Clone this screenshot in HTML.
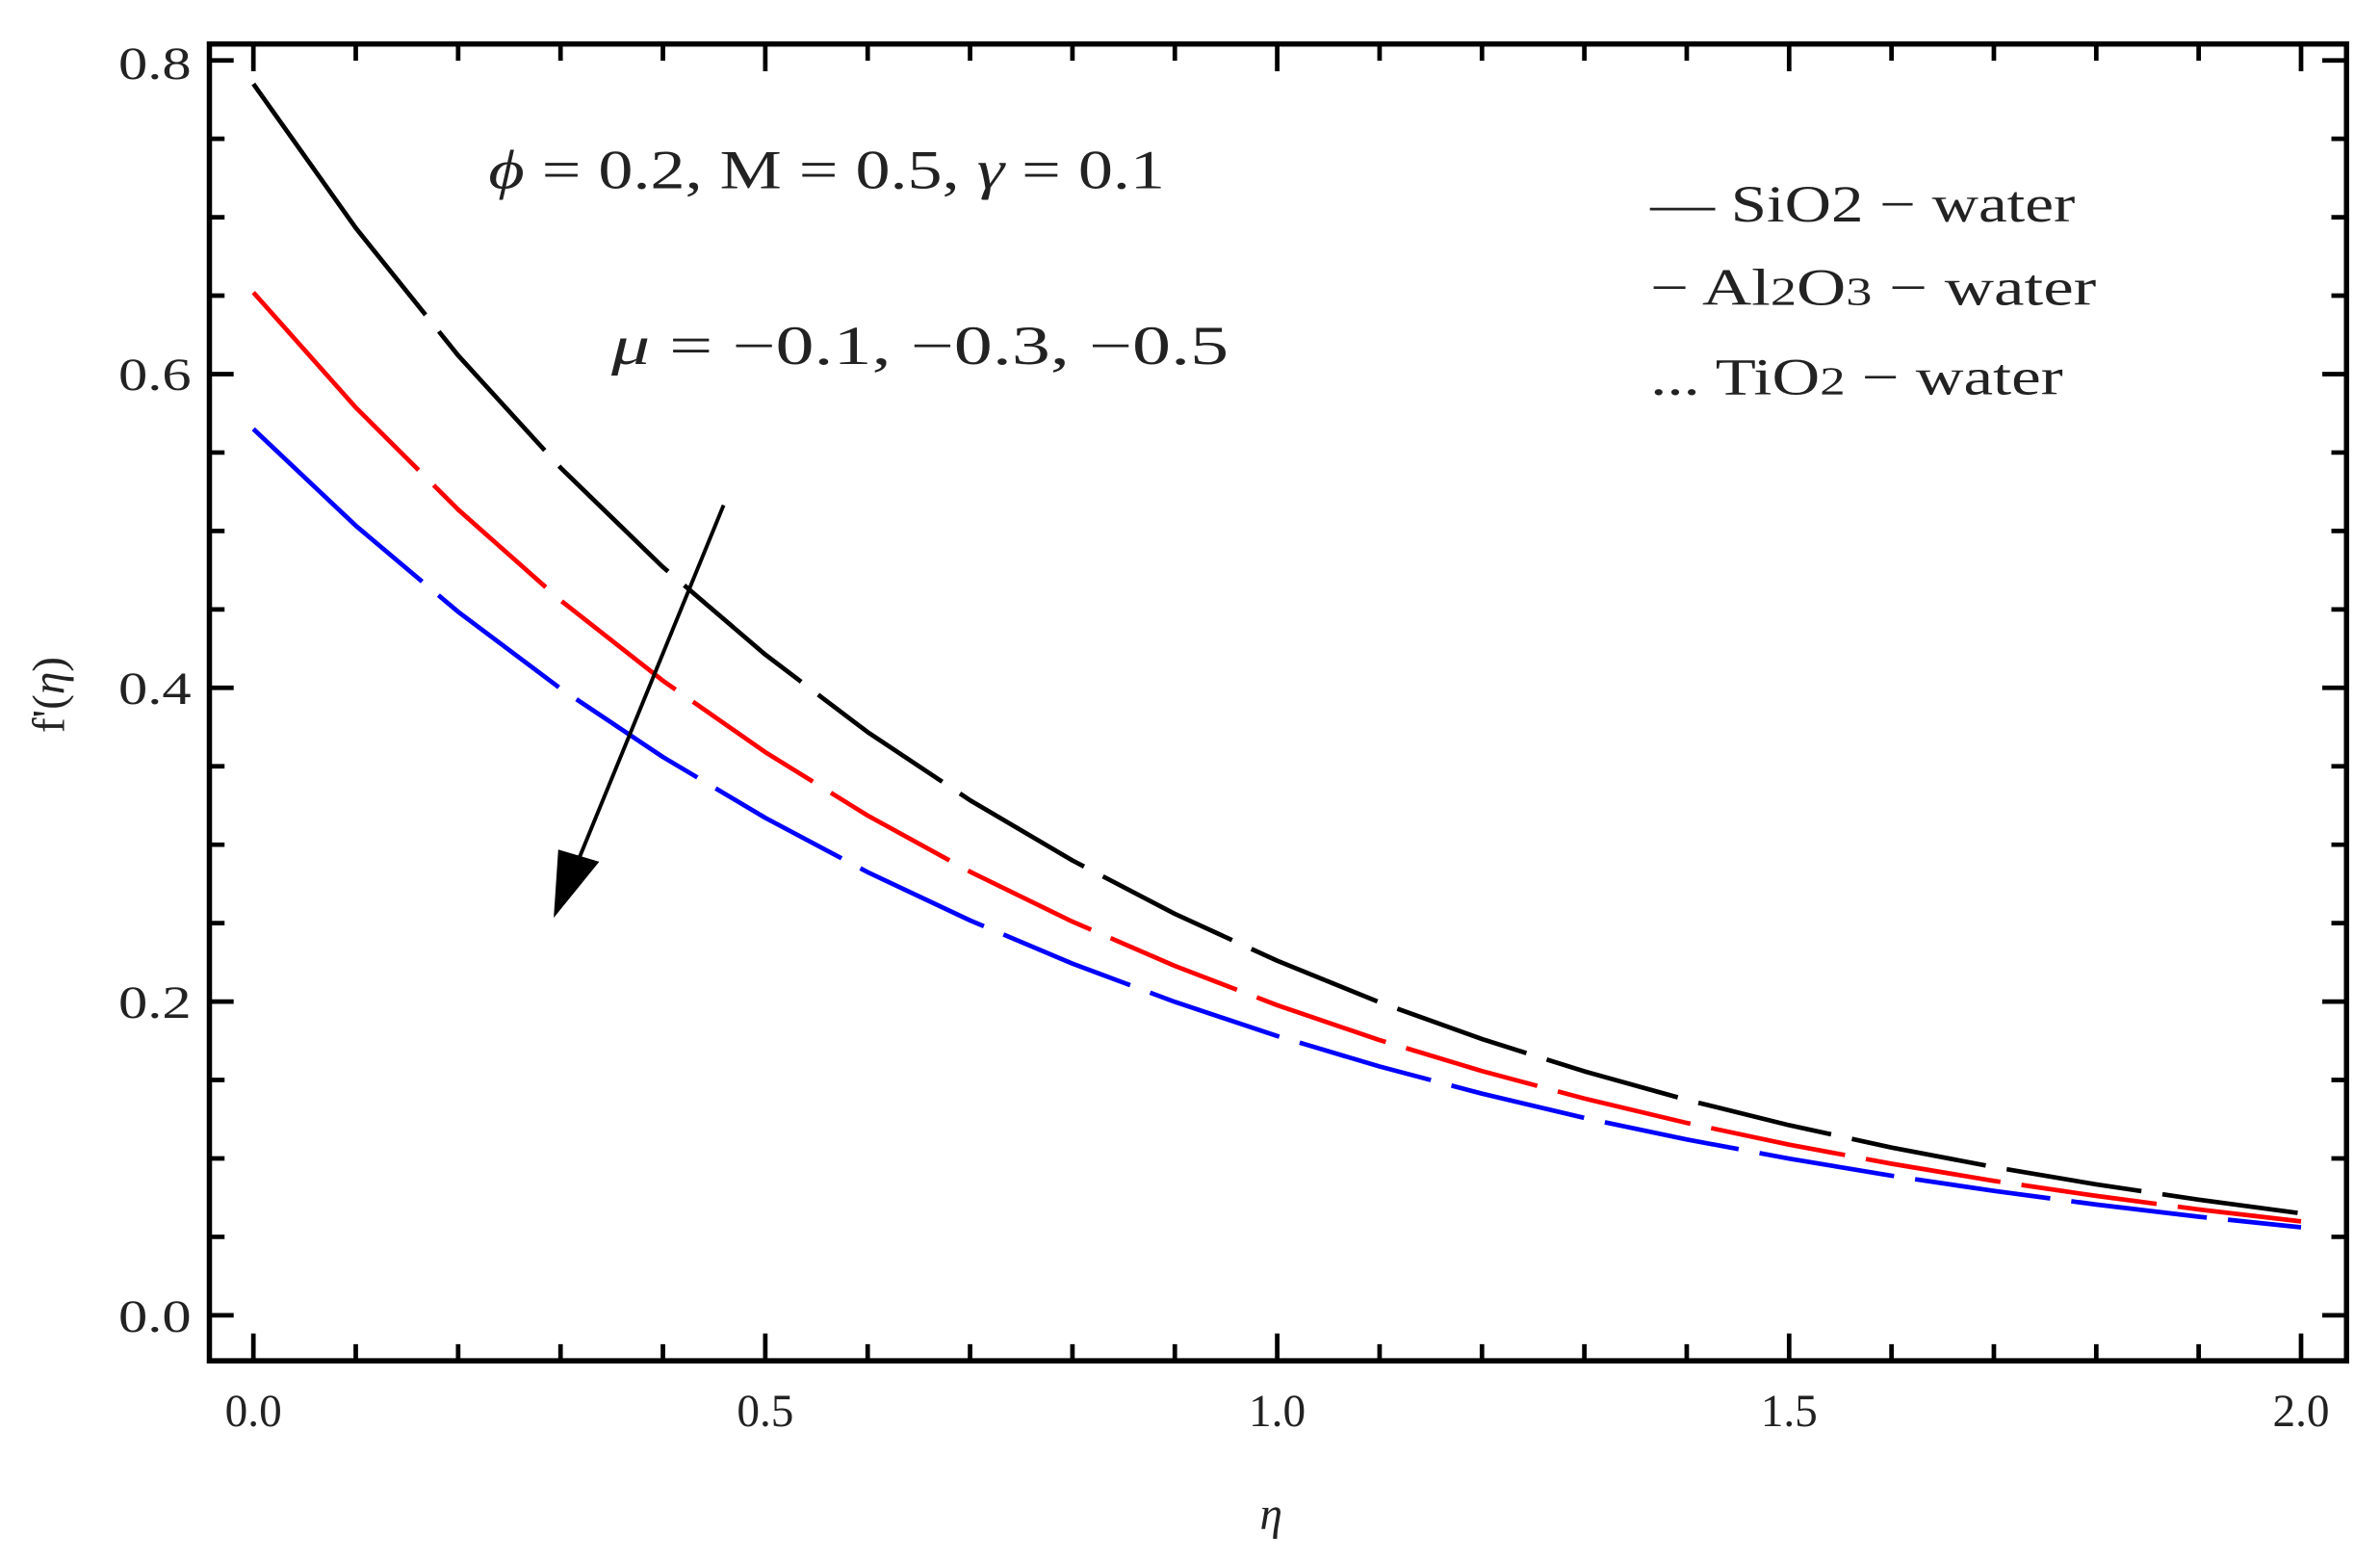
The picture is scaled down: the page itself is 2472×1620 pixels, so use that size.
<!DOCTYPE html>
<html><head><meta charset="utf-8"><style>
html,body{margin:0;padding:0;background:#fff;}
svg{display:block;}
text{font-family:"Liberation Serif","DejaVu Serif",serif;fill:#222;}
</style></head><body>
<svg width="2472" height="1620" viewBox="0 0 1569 1028.3" xmlns="http://www.w3.org/2000/svg">
<rect x="0" y="0" width="1569" height="1028.3" fill="#fff"/>
<rect x="138" y="29" width="1409" height="868" fill="none" stroke="#000" stroke-width="3.5"/>
<g stroke="#000" stroke-width="3">
<path d="M167 897v-18M234.5 897v-11M302 897v-11M369.5 897v-11M437 897v-11M504.5 897v-18M572 897v-11M639.5 897v-11M707 897v-11M774.5 897v-11M842 897v-18M909.5 897v-11M977 897v-11M1044.5 897v-11M1112 897v-11M1179.5 897v-18M1247 897v-11M1314.5 897v-11M1382 897v-11M1449.5 897v-11M1517 897v-18"/>
<path d="M167 29v18M234.5 29v11M302 29v11M369.5 29v11M437 29v11M504.5 29v18M572 29v11M639.5 29v11M707 29v11M774.5 29v11M842 29v18M909.5 29v11M977 29v11M1044.5 29v11M1112 29v11M1179.5 29v18M1247 29v11M1314.5 29v11M1382 29v11M1449.5 29v11M1517 29v18"/>
<path d="M138 867h16M138 815.3h10M138 763.6h10M138 711.9h10M138 660.2h16M138 608.5h10M138 556.8h10M138 505.1h10M138 453.4h16M138 401.7h10M138 350h10M138 298.3h10M138 246.6h16M138 194.9h10M138 143.2h10M138 91.5h10M138 39.8h16"/>
<path d="M1547 867h-16M1547 815.3h-10M1547 763.6h-10M1547 711.9h-10M1547 660.2h-16M1547 608.5h-10M1547 556.8h-10M1547 505.1h-10M1547 453.4h-16M1547 401.7h-10M1547 350h-10M1547 298.3h-10M1547 246.6h-16M1547 194.9h-10M1547 143.2h-10M1547 91.5h-10M1547 39.8h-16"/>
</g>
<g font-size="30" text-anchor="end">
<text x="126" y="52" textLength="48" lengthAdjust="spacingAndGlyphs">0.8</text>
<text x="126" y="257" textLength="48" lengthAdjust="spacingAndGlyphs">0.6</text>
<text x="126" y="464" textLength="48" lengthAdjust="spacingAndGlyphs">0.4</text>
<text x="126" y="671" textLength="48" lengthAdjust="spacingAndGlyphs">0.2</text>
<text x="126" y="878" textLength="48" lengthAdjust="spacingAndGlyphs">0.0</text>
</g>
<g font-size="30" text-anchor="middle">
<text x="167" y="940">0.0</text>
<text x="504.5" y="940">0.5</text>
<text x="842" y="940">1.0</text>
<text x="1179.5" y="940">1.5</text>
<text x="1517" y="940">2.0</text>
</g>
<text x="838" y="1008" font-size="30" font-style="italic" text-anchor="middle">η</text>
<text transform="translate(42,458) rotate(-90)" font-size="30" text-anchor="middle" fill="#555">f'(<tspan font-style="italic">η</tspan>)</text>
<g fill="none" stroke-width="3" stroke-linejoin="round">
<polyline stroke="#000" stroke-dasharray="190,14,105,14,100,14,100,14,100,14,95,14,95,14,90,14,90,14,90,14,90,14,90,14,90,14,90,14,90,14" points="167,55.3 234.5,150.3 302,234.3 369.5,308.3 437,373.8 504.5,431.5 572,482.6 639.5,527.5 707,567.2 774.5,602.4 842,633.3 909.5,660.7 977,684.9 1044.5,706.2 1112,725 1179.5,741.7 1247,756.4 1314.5,769.3 1382,780.7 1449.5,790.8 1517,799.8"/>
<polyline stroke="#f00" stroke-dasharray="160,14,100,14,95,14,95,14,90,14,90,14,90,14,90,14,90,14,90,14,90,14,90,14,90,14,90,14" points="167,192.8 234.5,268.6 302,335.9 369.5,395.7 437,448.7 504.5,495.8 572,537.6 639.5,574.6 707,607.5 774.5,636.7 842,662.6 909.5,685.6 977,706 1044.5,724.1 1112,740.2 1179.5,754.5 1247,767.1 1314.5,778.4 1382,788.3 1449.5,797.2 1517,805.1"/>
<polyline stroke="#00f" stroke-dasharray="150,14,100,14,95,14,95,14,90,14,90,14,90,14,90,14,90,14,90,14,90,14,90,14,90,14,90,14" points="167,282.8 234.5,346.5 302,403.3 369.5,453.9 437,499 504.5,539.1 572,574.9 639.5,606.7 707,635.2 774.5,660.4 842,682.9 909.5,703 977,720.9 1044.5,736.9 1112,751.1 1179.5,763.7 1247,775 1314.5,785 1382,794 1449.5,802 1517,809"/>
</g>
<line x1="477" y1="333" x2="380" y2="570" stroke="#000" stroke-width="2.5"/>
<polygon points="365,605 368,560 395,568" fill="#000"/>
<text x="322" y="124" font-size="36" textLength="446" lengthAdjust="spacingAndGlyphs"><tspan font-style="italic">ϕ</tspan> = 0.2, M = 0.5, <tspan font-style="italic">γ</tspan> = 0.1</text>
<text x="403" y="240" font-size="36" textLength="407" lengthAdjust="spacingAndGlyphs"><tspan font-style="italic">μ</tspan> = −0.1,  −0.3,  −0.5</text>
<g font-size="34">
<text x="1088" y="146" textLength="280" lengthAdjust="spacingAndGlyphs">— SiO2 − water</text>
<text x="1088" y="201" textLength="294" lengthAdjust="spacingAndGlyphs">− Al<tspan font-size="26">2</tspan>O<tspan font-size="26">3</tspan> − water</text>
<text x="1088" y="260" textLength="272" lengthAdjust="spacingAndGlyphs">... TiO<tspan font-size="26">2</tspan> − water</text>
</g>
</svg>
</body></html>
